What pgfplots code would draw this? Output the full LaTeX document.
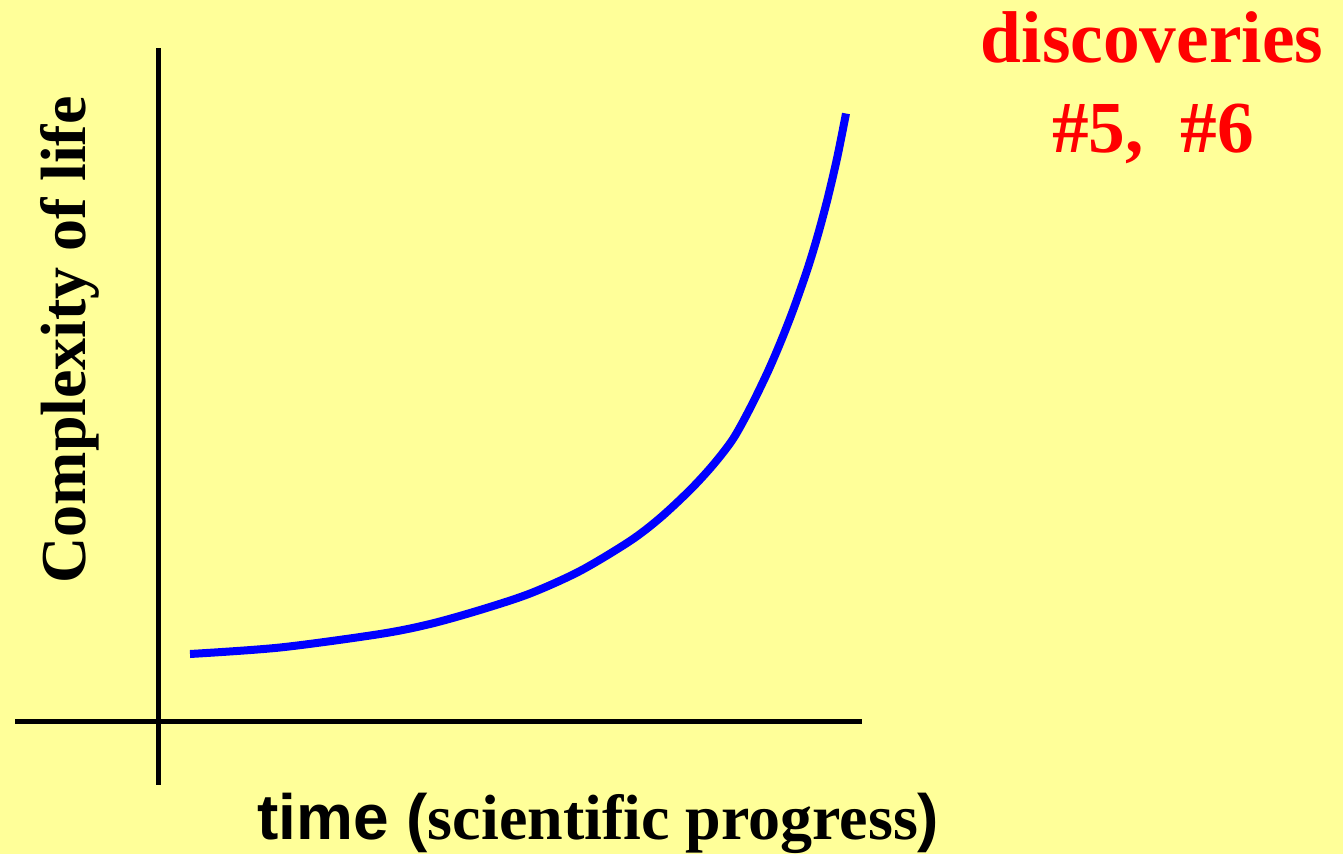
\documentclass[border=0pt]{standalone}
\usepackage{fontspec}
\setmainfont{Liberation Serif}
\setsansfont{Liberation Sans}
\usepackage{pgfplots}
\pgfplotsset{compat=1.18}
\definecolor{bgyellow}{RGB}{255,255,153}
\definecolor{curveblue}{RGB}{0,0,255}
\definecolor{labred}{RGB}{255,0,0}
\begin{document}
\begin{tikzpicture}
\begin{axis}[
  scale only axis, width=1007.25pt, height=640.5pt,
  xmin=0, xmax=1343, ymin=0, ymax=854, y dir=reverse,
  hide axis, clip=false,
]
\fill[bgyellow] (rel axis cs:0,0) rectangle (rel axis cs:1,1);
\draw[line width=3.75pt] (axis cs:158.5,48) -- (axis cs:158.5,785);
\draw[line width=3.75pt] (axis cs:15,721) -- (axis cs:862,721);
\addplot[curveblue, line width=6pt, smooth, no markers] coordinates {
(190,654) (280,647.5) (380,634) (430,624) (480,610) (530,593.5) (580,571)
(630,541) (660,518) (690,490) (713,465) (733,439) (750,408.4) (767,373.5)
(780,343.5) (793,310.4) (807,270.5) (817,238) (827,201) (837,158.5) (846,113.5)
};
\node[rotate=90, anchor=base, inner sep=0pt, font=\fontsize{48}{58}\selectfont\bfseries] at (axis cs:85,340) {Complexity of life};
\node[anchor=base west, inner sep=0pt, overlay, font=\fontsize{48}{58}\selectfont\bfseries] at (axis cs:257,839) {\sffamily time (\rmfamily scientific progress\sffamily )};
\node[anchor=base, inner sep=0pt, text=labred, font=\fontsize{55}{66}\selectfont\bfseries] at (axis cs:1152,62) {discoveries};
\node[anchor=base, inner sep=0pt, text=labred, font=\fontsize{55}{66}\selectfont\bfseries] at (axis cs:1153,152) {\#5,\ \ \#6};
\end{axis}
\end{tikzpicture}
\end{document}
